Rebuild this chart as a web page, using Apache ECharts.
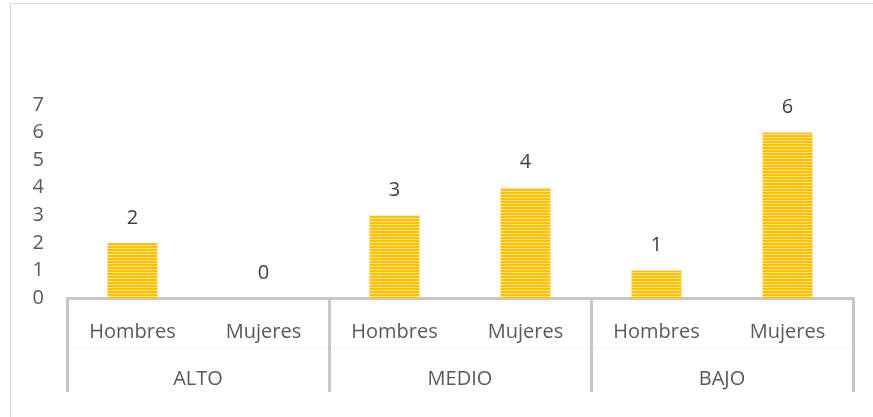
<!DOCTYPE html>
<html>
<head>
<meta charset="utf-8">
<title>Nivel por sexo</title>
<script src="https://cdn.jsdelivr.net/npm/echarts@6/dist/echarts.min.js"></script>
<style>
  html, body { margin: 0; padding: 0; overflow: hidden; background: #fff; }
  #chart { position: absolute; left: 0; top: 0; width: 873px; height: 417px; }
  #frame { position: absolute; left: 10px; top: 3px; width: 900px; height: 450px;
           border: 1px solid #d9d9d9; pointer-events: none; }
</style>
</head>
<body>
<div id="chart"></div>
<div id="frame"></div>
<script>
// niveles (primer nivel del eje) y sexo (segundo nivel)
const groups = ['ALTO', 'MEDIO', 'BAJO']
const categories = ['Hombres', 'Mujeres', 'Hombres', 'Mujeres', 'Hombres', 'Mujeres']
const counts = [2, 0, 3, 4, 1, 6]
const yMax = 7

// relleno rayado horizontal como en la hoja de calculo
function stripes() {
  const c = document.createElement('canvas')
  c.width = 4
  c.height = 3
  const ctx = c.getContext('2d')
  ctx.fillStyle = '#ffc000'
  ctx.fillRect(0, 0, 4, 2)
  ctx.fillStyle = '#ffe38f'
  ctx.fillRect(0, 2, 4, 1)
  return c
}

const font = 'Open Sans'
const gray = '#c6c6c6'

const chart = echarts.init(document.getElementById('chart'))
chart.setOption({
  animation: false,
  textStyle: { fontFamily: font },
  grid: { left: 67, right: 20, top: 105, bottom: 119 },
  xAxis: [{
    type: 'category',
    position: 'bottom',
    data: categories,
    axisLine: { lineStyle: { color: gray, width: 3 } },
    axisTick: { show: false },
    axisLabel: { interval: 0, margin: 24, color: '#595959', fontSize: 20, fontFamily: font }
  }, {
    type: 'category',
    position: 'bottom',
    data: groups,
    axisLine: { show: false },
    axisTick: { show: true, length: 94, lineStyle: { color: gray, width: 3 } },
    axisLabel: { interval: 0, margin: 71, color: '#595959', fontSize: 20, fontFamily: font }
  }, {
    type: 'category',
    position: 'bottom',
    offset: 49,
    data: groups,
    axisLine: { lineStyle: { color: '#f0f0f0', width: 1 } },
    axisTick: { show: false },
    axisLabel: { show: false }
  }],
  yAxis: {
    type: 'value',
    min: 0,
    max: yMax,
    interval: 1,
    splitLine: { show: false },
    axisLine: { show: false },
    axisTick: { show: false },
    axisLabel: { margin: 23, padding: [5, 0, 0, 0], color: '#595959', fontSize: 20, fontFamily: font }
  },
  series: [{
    type: 'bar',
    xAxisIndex: 0,
    barWidth: 50,
    itemStyle: { color: { image: stripes(), repeat: 'repeat' } },
    label: {
      show: true,
      position: 'top',
      distance: 15,
      color: '#404040',
      fontSize: 20,
      fontFamily: font
    },
    data: counts
  }]
})
</script>
</body>
</html>
